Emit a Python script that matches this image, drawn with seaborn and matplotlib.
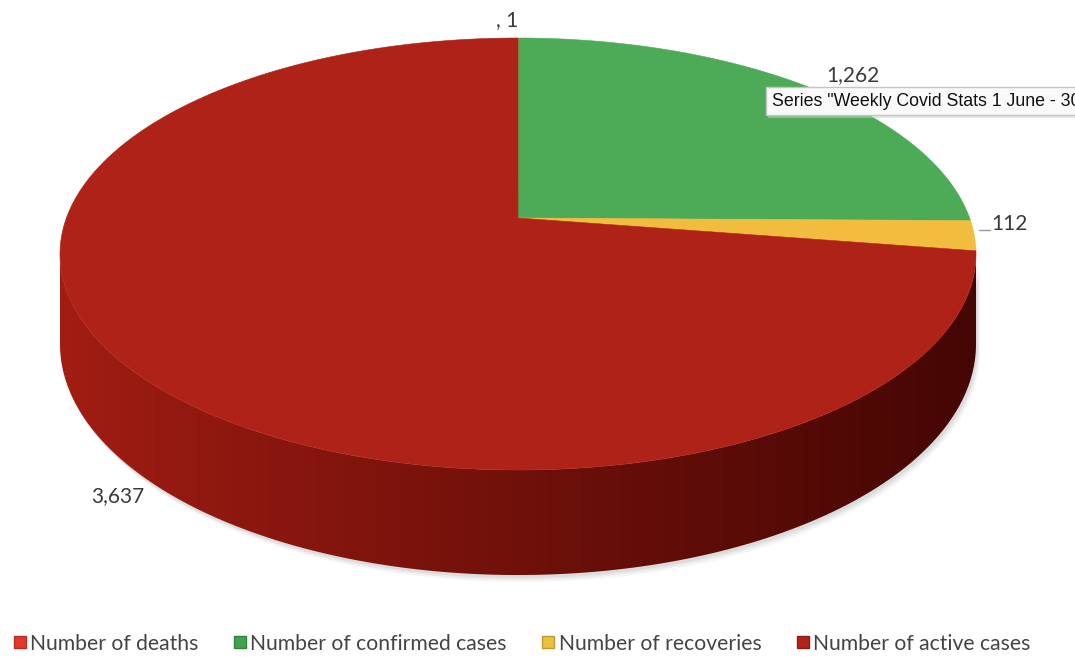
import numpy as np
import matplotlib.pyplot as plt
import matplotlib.colors as mcolors
from matplotlib.patches import Polygon, FancyBboxPatch
from matplotlib.lines import Line2D
import seaborn as sns

# chart data
categories = ["Number of deaths", "Number of confirmed cases",
              "Number of recoveries", "Number of active cases"]
values = [1, 1262, 112, 3637]
value_labels = [", 1", "1,262", "112", "3,637"]
slice_colors = ["#E0352B", "#4DAA57", "#F2BD3F", "#AE2217"]
legend_colors = ["#E2392E", "#3FA34D", "#EBC03E", "#B3231A"]
tooltip_text = 'Series "Weekly Covid Stats 1 June - 30 June"'

sns.set_theme(style="white")
plt.rcParams["font.family"] = ["Lato", "DejaVu Sans"]

fig = plt.figure(figsize=(10.75, 6.57), dpi=100)
ax = fig.add_axes([0, 0, 1, 1])
ax.axis("off")

# perspective disk geometry (pixel space)
CX, CY = 518, 218
A, B, C = 451.6, -173.67, 0.1667
H = 87.5


def proj(theta, drop=0.0):
    u, v = np.cos(theta), np.sin(theta)
    w = 1 + C * v
    return CX + A * u / w, (CY + B * v + drop) / w


# slice angles, clockwise from 12 o'clock
fracs = np.array(values) / np.sum(values)
ends = np.pi / 2 - 2 * np.pi * np.cumsum(fracs)
starts = np.concatenate([[np.pi / 2], ends[:-1]])

# visible front of the wall lies between the two silhouette angles
t_left = np.pi + np.arcsin(C)
t_right = 2 * np.pi - np.arcsin(C)
tt = np.linspace(t_left, t_right, 400)
tx, ty = proj(tt)
bx, by = proj(tt, H)

# soft shadow under the disk
for off, al in [(7, 0.05), (5, 0.07), (3, 0.09)]:
    sh = list(zip(tx + off * 0.6, ty + off)) + list(zip(bx[::-1] + off * 0.6, by[::-1] + off))
    ax.add_patch(Polygon(sh, closed=True, facecolor="#555555", edgecolor="none",
                         alpha=al, zorder=1))

# side wall with a left-to-right shading
side = Polygon(list(zip(tx, ty)) + list(zip(bx[::-1], by[::-1])), closed=True,
               facecolor="none", edgecolor="none")
ax.add_patch(side)
light = np.array(mcolors.to_rgb("#A31D13"))
dark = np.array(mcolors.to_rgb("#440603"))
g = np.linspace(0, 1, 512) ** 0.9
grad = (light[None, :] * (1 - g[:, None]) + dark[None, :] * g[:, None])[None, :, :]
im = ax.imshow(grad, extent=(58, 980, 600, 150), aspect="auto", zorder=2,
               interpolation="bilinear")
im.set_clip_path(side)

# top face
for s, e, col in zip(starts, ends, slice_colors):
    ts = np.linspace(s, e, 300)
    xs, ys = proj(ts)
    pts = [(CX, CY)] + list(zip(xs, ys))
    ax.add_patch(Polygon(pts, closed=True, facecolor=col, edgecolor=col,
                         linewidth=0.4, zorder=3))

# data labels
lab_col = "#3a3a3a"
ax.text(507, 20, value_labels[0], fontsize=15, color=lab_col, ha="center", va="center")
ax.text(853, 75, value_labels[1], fontsize=15, color=lab_col, ha="center", va="center")
ax.text(1009, 224, value_labels[2], fontsize=15, color=lab_col, ha="center", va="center")
ax.plot([979, 990], [230, 230], color="#9a9a9a", lw=1, zorder=4)
ax.text(118, 496, value_labels[3], fontsize=15, color=lab_col, ha="center", va="center")

# tooltip box (runs off the right edge, as in the screenshot)
shadow = FancyBboxPatch((768, 90), 420, 28, boxstyle="square,pad=0",
                        facecolor="#cfcfcf", edgecolor="none", alpha=0.5, zorder=4)
tip = FancyBboxPatch((766, 87), 420, 28, boxstyle="square,pad=0",
                     facecolor="#fafafa", edgecolor="#c4c4c4", linewidth=1,
                     zorder=5)
ax.add_patch(shadow)
ax.add_patch(tip)
ax.text(772, 101.5, tooltip_text, fontsize=12.8, color="#111111", va="center",
        family=["Liberation Sans", "DejaVu Sans"], zorder=6)

ax.set_xlim(0, 1075)
ax.set_ylim(657, 0)

# legend
handles = [Line2D([], [], marker="s", linestyle="none", markersize=8.5,
                  markerfacecolor=c,
                  markeredgecolor=mcolors.to_hex(np.array(mcolors.to_rgb(c)) * 0.8))
           for c in legend_colors]
fig.legend(handles, categories, loc="center", ncol=4, frameon=False,
           bbox_to_anchor=(0.485, 0.02), fontsize=15.2, handletextpad=0.15,
           columnspacing=1.6, handlelength=0.7, labelcolor="#444444")

fig.savefig("out.png", dpi=100)
